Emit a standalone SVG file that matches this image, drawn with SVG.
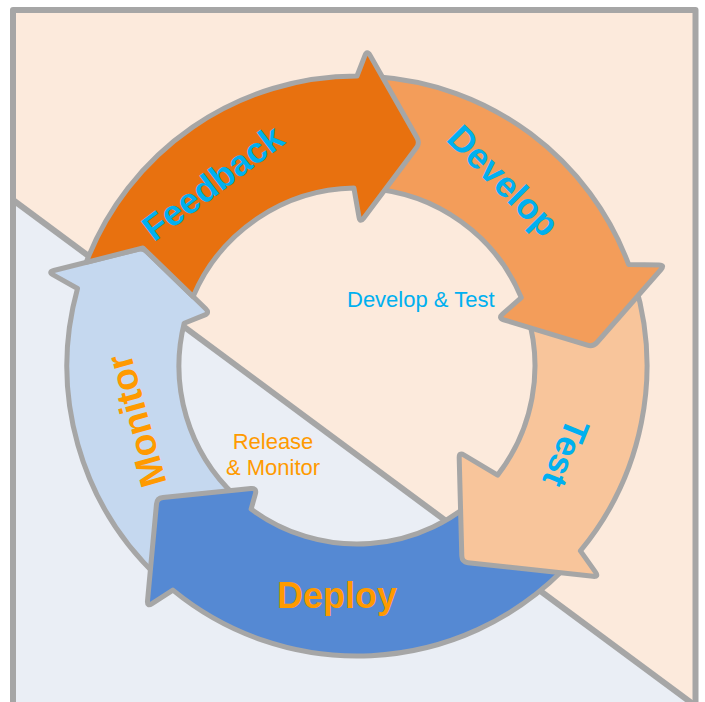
<svg xmlns="http://www.w3.org/2000/svg" width="705" height="702" viewBox="0 0 705 702">
<style>
.arrow{stroke:#A6A6A6;stroke-width:5;stroke-linejoin:round}
.big{font-family:"Liberation Sans",Arial,sans-serif;font-weight:bold;font-size:36px;text-anchor:middle}
.blue{fill:#00B0F0}
.orange{fill:#FF9A00}
.small{font-family:"Liberation Sans",Arial,sans-serif;font-size:22px}
</style>
<rect width="705" height="702" fill="#FFFFFF"/>
<g id="background">
<rect x="13" y="10" width="682.5" height="700" fill="#FCEADC"/>
<polygon points="13,200 697,707 697,710 13,710" fill="#EAEEF5"/>
<line x1="13" y1="200" x2="697" y2="707" stroke="#A6A6A6" stroke-width="6"/>
<rect x="13" y="10" width="682.5" height="700" fill="none" stroke="#A6A6A6" stroke-width="6" stroke-linejoin="round"/>
</g>
<g id="monitor">
<path class="arrow" fill="#C5D8EF" d="M159.2,578.1 A290,290 0 0 1 77.5,288.5 L53.2,274.9 Q48,272 53.8,270.5 L137.2,249.5 Q143,248 147.3,252.2 L205.7,308.8 Q210,313 204.4,315.2 L184.2,323.2 A178,178 0 0 0 235.6,496.2 Z"/>
<text class="big orange" transform="translate(136,421) rotate(-105.5)" x="0" y="13" style="font-size:37px">Monitor</text>
</g>
<g id="deploy">
<path class="arrow" fill="#5589D3" d="M562,571.1 A290,290 0 0 1 172.9,590.1 L152,603.7 Q147,607 147.5,601 L156.5,504 Q157,498 163,497.4 L251,488.6 Q257,488 255.4,493.8 L251.1,509.1 A178,178 0 0 0 482.9,491.9 Z"/>
<text class="big orange" x="337" y="608">Deploy</text>
</g>
<g id="test">
<path class="arrow" fill="#F8C59B" d="M634.3,281.2 A290,290 0 0 1 580.4,550.9 L595.5,572.1 Q599,577 593,576.3 L468,562.7 Q462,562 461.8,556 L459.2,458 Q459,452 464.1,455.1 L497.6,475.1 A178,178 0 0 0 527.2,314 Z"/>
<text class="big blue" transform="translate(566,453) rotate(112)" x="0" y="12" style="font-size:35px">Test</text>
</g>
<g id="develop">
<path class="arrow" fill="#F39D5A" d="M377.2,76.7 A290,290 0 0 1 628.6,264.4 L659,264.9 Q665,265 661,269.5 L597,342.5 Q593,347 587.3,345.2 L503.7,319.8 Q498,318 502.5,314.1 L521.3,297.6 A178,178 0 0 0 369.4,188.4 Z"/>
<text class="big blue" transform="translate(503,181) rotate(45)" x="0" y="12">Develop</text>
</g>
<g id="feedback">
<path class="arrow" fill="#E8710F" d="M86.2,262.4 A290,290 0 0 1 357,76 L364.9,55.6 Q367,50 370,55.2 L417,137.8 Q420,143 416.4,147.8 L363.6,218.2 Q360,223 359,217.1 L353.9,188 A178,178 0 0 0 193.1,296.6 L143,248 Z"/>
<text class="big blue" transform="translate(213,183) rotate(-37)" x="0" y="12">Feedback</text>
</g>
<g id="labels">
<text class="small blue" x="347" y="307">Develop &amp; Test</text>
<text class="small orange" x="273" y="449" text-anchor="middle">Release</text>
<text class="small orange" x="273" y="475" text-anchor="middle">&amp; Monitor</text>
</g>
</svg>
